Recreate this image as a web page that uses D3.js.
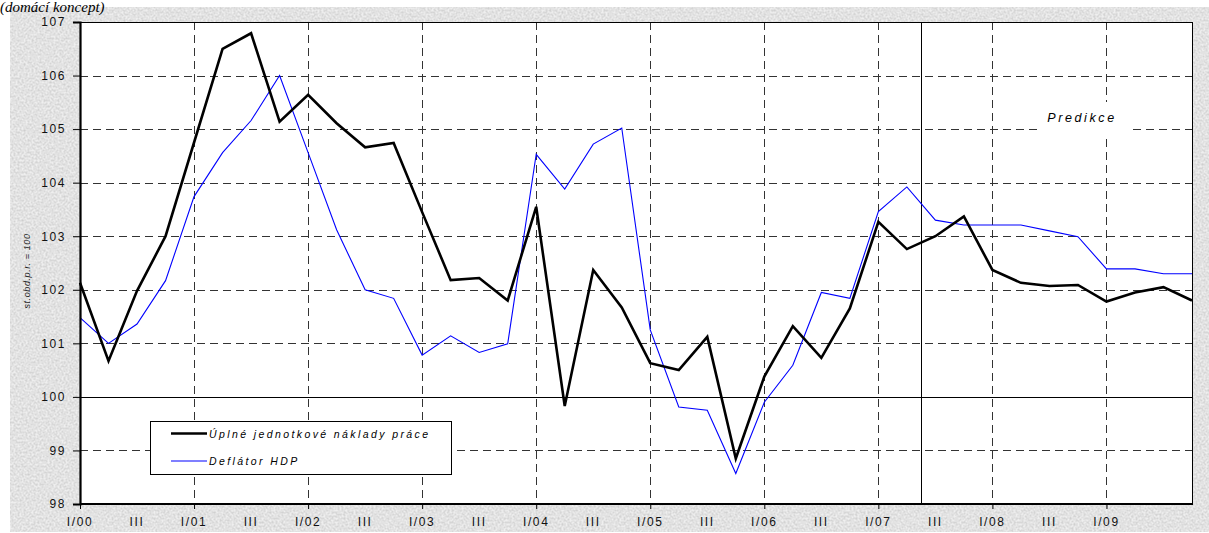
<!DOCTYPE html>
<html lang="cs">
<head>
<meta charset="UTF-8">
<title>Jednotkové náklady práce a deflátor HDP</title>
<script src="https://cdn.jsdelivr.net/npm/d3@7"></script>
<style>
    body { margin: 0; padding: 0; background: #fff; }
    svg { display: block; font-family: 'Liberation Sans', Arial, sans-serif; }
</style>
</head>
<body>
<div id="chart"></div>
<script>
    // quarters I/00 .. IV/09
    const years = ["00", "01", "02", "03", "04", "05", "06", "07", "08", "09"];
    const quarters = ["I", "II", "III", "IV"];

    // Úplné jednotkové náklady práce (st.obd.p.r. = 100)
    const ulc = [102.13, 100.67, 101.98, 103.0, 104.75, 106.5, 106.79, 105.14, 105.64, 105.11,
        104.66, 104.74, 103.45, 102.18, 102.22, 101.8, 103.55, 99.83, 102.37, 101.67,
        100.63, 100.5, 101.12, 98.85, 100.38, 101.32, 100.73, 101.65, 103.27, 102.76,
        103.0, 103.37, 102.37, 102.13, 102.07, 102.09, 101.78, 101.95, 102.05, 101.8];

    // Deflátor HDP
    const deflator = [101.48, 101.0, 101.36, 102.17, 103.74, 104.56, 105.16, 106.0, 104.56, 103.12,
        102.0, 101.84, 100.78, 101.14, 100.83, 100.99, 104.53, 103.88, 104.72, 105.02,
        101.25, 99.81, 99.75, 98.57, 99.9, 100.59, 101.95, 101.84, 103.46, 103.92,
        103.3, 103.21, 103.21, 103.21, 103.1, 102.99, 102.39, 102.39, 102.3, 102.3];

    const yTicks = [98, 99, 100, 101, 102, 103, 104, 105, 106, 107];
    const seriesNames = ["Úplné jednotkové náklady práce", "Deflátor HDP"];
    const predictionStart = "II/07"; // divider drawn half a quarter after this

    const labels = [];
    years.forEach(y => quarters.forEach(q => labels.push(q + "/" + y)));

    const W = 1209, H = 533;
    const margin = {left: 80, right: 17, top: 22, bottom: 29};

    const svg = d3.select("#chart").append("svg")
        .attr("width", W).attr("height", H);

    // granite-like background
    const defs = svg.append("defs");
    const f = defs.append("filter").attr("id", "granite")
        .attr("x", 0).attr("y", 0).attr("width", "100%").attr("height", "100%");
    f.append("feTurbulence").attr("type", "fractalNoise")
        .attr("baseFrequency", 0.5).attr("numOctaves", 3).attr("seed", 7).attr("result", "n");
    f.append("feColorMatrix").attr("in", "n").attr("type", "matrix")
        .attr("values", "0 0 0 0 0.55  0 0 0 0 0.55  0 0 0 0 0.55  -1.3 0 0 0 0.95");
    f.append("feComposite").attr("in2", "SourceGraphic").attr("operator", "in");

    svg.append("rect").attr("x", 10).attr("y", 7).attr("width", W - 10).attr("height", H - 8)
        .attr("fill", "#efefef");
    svg.append("rect").attr("x", 10).attr("y", 7).attr("width", W - 10).attr("height", H - 8)
        .attr("fill", "#efefef").attr("filter", "url(#granite)");

    svg.append("text").attr("x", 0).attr("y", 12)
        .style("font-family", "'Liberation Serif', 'Times New Roman', serif")
        .style("font-style", "italic").style("font-size", "15px")
        .text("(domácí koncept)");

    const x = d3.scalePoint().domain(labels).range([margin.left, W - margin.right]);
    const y = d3.scaleLinear().domain([98, 107]).range([H - margin.bottom, margin.top]);

    const x0 = margin.left, x1 = W - margin.right;
    const y0 = y(98), y1 = y(107);

    svg.append("rect").attr("x", x0).attr("y", y1).attr("width", x1 - x0).attr("height", y0 - y1)
        .attr("fill", "#fff");

    // gridlines
    const grid = svg.append("g").attr("stroke", "#333").attr("stroke-width", 1);
    yTicks.filter(v => v > 98 && v < 107).forEach(v => {
        grid.append("line")
            .attr("x1", x0).attr("x2", x1)
            .attr("y1", Math.round(y(v)) + 0.5).attr("y2", Math.round(y(v)) + 0.5)
            .attr("stroke", v === 100 ? "#000" : "#333")
            .attr("stroke-dasharray", v === 100 ? null : "8,5");
    });
    years.slice(1).forEach(yr => {
        const xx = Math.round(x("I/" + yr)) + 0.5;
        grid.append("line").attr("x1", xx).attr("x2", xx).attr("y1", y1).attr("y2", y0)
            .attr("stroke-dasharray", "8,5");
    });

    // prediction divider
    const xp = Math.round(x(predictionStart) + x.step() / 2) + 0.5;
    svg.append("line").attr("x1", xp).attr("x2", xp).attr("y1", y1).attr("y2", y0)
        .attr("stroke", "#000").attr("stroke-width", 1);

    // "Predikce" label on white patch
    svg.append("rect").attr("x", 1040).attr("y", 102).attr("width", 92).attr("height", 32)
        .attr("fill", "#fff");
    svg.append("text").attr("x", 1082).attr("y", 122).attr("text-anchor", "middle")
        .style("font-style", "italic").style("font-size", "12.5px").style("letter-spacing", "2.6px")
        .text("Predikce");

    // plot border
    svg.append("line").attr("x1", x0).attr("x2", x1).attr("y1", y1 + 0.5).attr("y2", y1 + 0.5)
        .attr("stroke", "#000");
    svg.append("line").attr("x1", x1 + 0.5).attr("x2", x1 + 0.5).attr("y1", y1).attr("y2", y0)
        .attr("stroke", "#000");

    // series
    const line = d3.line().x((d, i) => x(labels[i])).y(d => y(d));
    svg.append("path").datum(deflator).attr("d", line)
        .attr("fill", "none").attr("stroke", "#0000ff").attr("stroke-width", 1.1);
    svg.append("path").datum(ulc).attr("d", line)
        .attr("fill", "none").attr("stroke", "#000").attr("stroke-width", 2.6)
        .attr("stroke-linejoin", "miter");

    // axes
    const yAxis = svg.append("g").attr("transform", `translate(${x0},0)`)
        .call(d3.axisLeft(y).tickValues(yTicks).tickSize(7).tickPadding(7).tickFormat(d3.format("d")));
    yAxis.select(".domain").attr("stroke-width", 2.2);
    yAxis.selectAll("text").style("font-size", "12px").style("letter-spacing", "1.6px")
        .style("font-family", "'Liberation Sans', Arial, sans-serif").attr("fill", "#111");

    const xTickVals = labels.filter(l => l.startsWith("I/"));
    const xAxis = svg.append("g").attr("transform", `translate(0,${y0})`)
        .call(d3.axisBottom(x).tickValues(xTickVals).tickSize(5).tickFormat(""));
    xAxis.select(".domain").attr("stroke-width", 2.2).attr("d", `M${x0},0H${x1 + 1}`);

    // category labels every other quarter (I and III), up to I/09
    const lastLabel = labels.indexOf("I/09");
    svg.append("g").selectAll("text")
        .data(labels.filter((l, i) => i <= lastLabel && (l.startsWith("I/") || l.startsWith("III/"))))
        .join("text")
        .attr("x", d => x(d))
        .attr("y", y0 + 22)
        .attr("text-anchor", "middle")
        .style("font-size", "12px").style("letter-spacing", "1.6px").attr("fill", "#111")
        .text(d => d.startsWith("III/") ? "III" : d);

    // y title
    svg.append("text")
        .attr("transform", `translate(30,${y(102.35)}) rotate(-90)`)
        .attr("text-anchor", "middle")
        .style("font-style", "italic").style("font-size", "9px").style("letter-spacing", "0.6px")
        .attr("fill", "#222")
        .text("st.obd.p.r. = 100");

    // legend
    const lg = svg.append("g");
    lg.append("rect").attr("x", 150.5).attr("y", 421.5).attr("width", 301).attr("height", 53)
        .attr("fill", "#fff").attr("stroke", "#000");
    [["#000", 2.6], ["#0000ff", 1.1]].forEach((s, i) => {
        const ly = 433.5 + i * 27.5;
        lg.append("line").attr("x1", 171).attr("x2", 207).attr("y1", ly).attr("y2", ly)
            .attr("stroke", s[0]).attr("stroke-width", s[1]);
        lg.append("text").attr("x", 209).attr("y", ly + 4)
            .style("font-style", "italic").style("font-size", "10.5px").style("letter-spacing", "2.4px")
            .text(seriesNames[i]);
    });
</script>
</body>
</html>
